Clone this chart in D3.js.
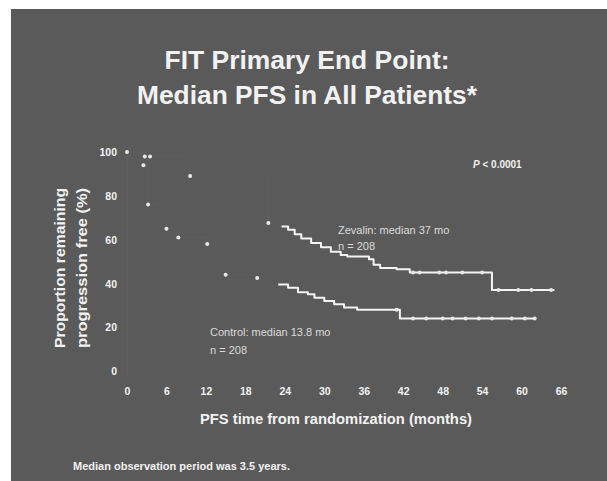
<!DOCTYPE html>
<html>
<head>
<meta charset="utf-8">
<script src="https://cdn.jsdelivr.net/npm/d3@7"></script>
<style>
  html, body { margin: 0; padding: 0; background: #ffffff; }
  svg { display: block; }
  text { font-family: "Liberation Sans", Arial, sans-serif; }
</style>
</head>
<body>
<svg id="chart" width="607" height="481"></svg>
<script>
// Kaplan-Meier step points: [month, % progression free]
const zevalinSteps = [
  [0, 100], [2.7, 98], [9.6, 89], [21.5, 67.6], [23.5, 66], [24.5, 64.5],
  [25.5, 62.5], [26.5, 60.5], [28, 58.5], [29.5, 56.5], [31, 54.5],
  [32.5, 53], [33.5, 52.3], [36.8, 51], [37.5, 48.5], [38.5, 47],
  [41, 46.5], [43, 45], [55.5, 37], [65, 37]
];
const controlSteps = [
  [0, 100], [2.5, 94], [3.2, 76], [6, 65], [7.8, 61], [12.2, 58],
  [13.8, 44], [19.5, 42.5], [23, 39.5], [24.5, 38], [26, 36], [27.5, 35],
  [28.5, 33.5], [30, 32], [31.5, 30.5], [33, 29], [35, 28], [41.5, 24], [62, 24]
];
// Censored observations (months)
const zevalinCensor = [0, 2.7, 3.5, 9.6, 21.5, 43.5, 44.5, 47.5, 48.5, 51, 54, 56.5, 59.5, 61.5, 64.5];
const controlCensor = [2.5, 3.2, 6, 7.8, 12.2, 15, 19.8, 41, 43.5, 45.5, 48, 49.5, 51.5, 53.5, 55.5, 58.5, 60.5, 62];

const xTicks = [0, 6, 12, 18, 24, 30, 36, 42, 48, 54, 60, 66];
const yTicks = [0, 20, 40, 60, 80, 100];

const titleLines = ["FIT Primary End Point:", "Median PFS in All Patients*"];
const titleWidths = [285, 340];

const svg = d3.select("#chart");
const ink = "#f2f2f2";

// Slide panel
svg.append("rect").attr("x", 11).attr("y", 9).attr("width", 596).attr("height", 472).attr("fill", "#5a5a5a");

// Title
svg.append("g").selectAll("text").data(titleLines).join("text")
  .attr("x", 307).attr("y", (d, i) => 69 + i * 35)
  .attr("text-anchor", "middle").attr("fill", ink)
  .attr("font-size", 26).attr("font-weight", "bold")
  .attr("textLength", (d, i) => titleWidths[i]).attr("lengthAdjust", "spacingAndGlyphs")
  .text(d => d);

const x = d3.scaleLinear().domain([0, 66]).range([127, 561]);
const y = d3.scaleLinear().domain([0, 100]).range([371, 152]);

// Faint y axis rule
svg.append("line").attr("x1", x(0)).attr("x2", x(0)).attr("y1", y(100) - 2).attr("y2", y(0) + 6)
  .attr("stroke", "#636363").attr("stroke-width", 1);

// Axes (labels only)
const yAxis = d3.axisLeft(y).tickValues(yTicks).tickSize(0).tickPadding(0);
const gy = svg.append("g").attr("transform", `translate(117,0)`).call(yAxis);
gy.select(".domain").remove();
gy.selectAll("text").attr("fill", ink).attr("font-size", 10.5).attr("font-weight", "bold")
  .attr("font-family", "Liberation Sans, Arial, sans-serif").attr("dy", "0.35em");

const xAxis = d3.axisBottom(x).tickValues(xTicks).tickSize(0).tickPadding(0);
const gx = svg.append("g").attr("transform", `translate(0,388)`).call(xAxis);
gx.select(".domain").remove();
gx.selectAll("text").attr("fill", ink).attr("font-size", 10.5).attr("font-weight", "bold")
  .attr("font-family", "Liberation Sans, Arial, sans-serif");

// Axis titles
svg.append("text").attr("x", 336).attr("y", 424).attr("text-anchor", "middle")
  .attr("fill", ink).attr("font-size", 14).attr("font-weight", "bold")
  .attr("textLength", 272).attr("lengthAdjust", "spacingAndGlyphs")
  .text("PFS time from randomization (months)");
const yTitle = ["Proportion remaining", "progression free (%)"];
svg.append("g").selectAll("text").data(yTitle).join("text")
  .attr("transform", (d, i) => `translate(${65 + i * 22},268) rotate(-90)`)
  .attr("text-anchor", "middle").attr("fill", ink)
  .attr("font-size", 14.5).attr("font-weight", "bold")
  .attr("textLength", 160).attr("lengthAdjust", "spacingAndGlyphs")
  .text(d => d);

// Step lookup for censor marks
function stepValue(steps, t) {
  let v = steps[0][1];
  for (const s of steps) { if (s[0] <= t) v = s[1]; }
  return v;
}

const line = d3.line().x(d => x(d[0])).y(d => y(d[1])).curve(d3.curveStepAfter);

function drawCurve(steps, censor, brightFrom) {
  const g = svg.append("g");
  g.append("path").attr("d", line(steps)).attr("fill", "none")
    .attr("stroke", "#ffffff").attr("stroke-opacity", 0.025).attr("stroke-width", 1);
  const bright = steps.filter(d => d[0] >= brightFrom);
  g.append("path").attr("d", line(bright)).attr("fill", "none")
    .attr("stroke", "#f4f4f4").attr("stroke-width", 2).attr("stroke-linejoin", "round");
  g.selectAll("circle").data(censor).join("circle")
    .attr("cx", d => x(d)).attr("cy", d => y(stepValue(steps, d)))
    .attr("r", 2).attr("fill", "#e8e8e8");
}
drawCurve(zevalinSteps, zevalinCensor, 23.5);
drawCurve(controlSteps, controlCensor, 23);

// Annotations
const note = (tx, ty, str, size) => svg.append("text").attr("x", tx).attr("y", ty)
  .attr("fill", "#dcdcdc").attr("font-size", size).text(str);
note(338, 234, "Zevalin: median 37 mo", 11);
note(338, 250, "n = 208", 11);
note(210, 336, "Control: median 13.8 mo", 11);
note(210, 354, "n = 208", 11);

const p = svg.append("text").attr("x", 473).attr("y", 168).attr("fill", ink)
  .attr("font-size", 10).attr("font-weight", "bold");
p.append("tspan").attr("font-style", "italic").text("P");
p.append("tspan").text(" < 0.0001");

// Footnote
svg.append("text").attr("x", 73).attr("y", 470).attr("fill", ink)
  .attr("font-size", 11).attr("font-weight", "bold")
  .text("Median observation period was 3.5 years.");
</script>
</body>
</html>
